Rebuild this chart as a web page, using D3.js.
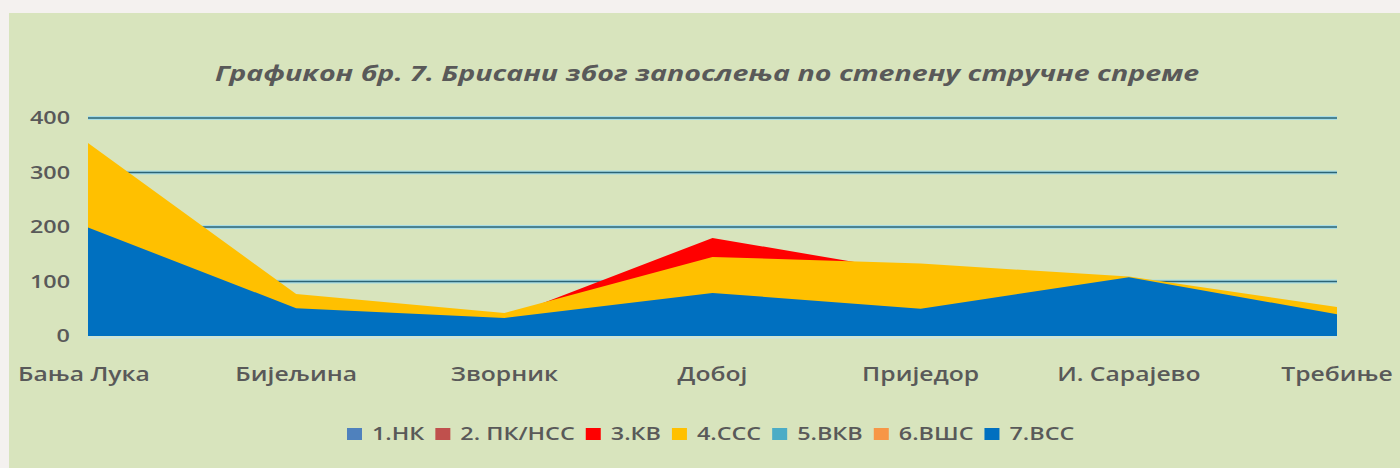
<!DOCTYPE html>
<html>
<head>
<meta charset="utf-8">
<script src="https://cdn.jsdelivr.net/npm/d3@7"></script>
<style>
  body { margin: 0; background: #f4f1ef; }
  svg { display: block; }
</style>
</head>
<body>
<svg id="chart"></svg>
<script>
const categories = ['Бања Лука', 'Бијељина', 'Зворник', 'Добој', 'Приједор', 'И. Сарајево', 'Требиње']
const seriesNames = ['1.НК', '2. ПК/НСС', '3.КВ', '4.ССС', '5.ВКВ', '6.ВШС', '7.ВСС']
const nk = [6, 2, 1, 3, 2, 1, 1]
const pkNss = [10, 3, 2, 6, 4, 2, 1]
const kv = [120, 20, 33, 180, 115, 40, 12]
const sss = [354, 77, 42, 145, 133, 109, 53]
const vkv = [3, 1, 0, 2, 1, 1, 0]
const vss6 = [20, 6, 3, 10, 6, 8, 3]
const vss7 = [199, 51, 33, 79, 50, 108, 40]
const yTicks = [0, 100, 200, 300, 400]
const colors = ['#4f81bd', '#c0504d', '#ff0000', '#ffc000', '#4bacc6', '#f79646', '#0070c0']

const series = [nk, pkNss, kv, sss, vkv, vss6, vss7]

const W = 1400, H = 468
const margin = { top: 118, right: 63, bottom: 132, left: 88 }
const width = W - margin.left - margin.right
const height = H - margin.top - margin.bottom
const stretch = 1.3 // the source picture is stretched sideways
const font = 'Open Sans, sans-serif'
const textColor = '#595959'

const svgElement = d3.select('#chart').attr('width', W).attr('height', H)

svgElement.append('rect')
  .attr('x', 9).attr('y', 13).attr('width', W - 9).attr('height', H - 13)
  .attr('fill', '#d8e4bd')

svgElement.append('text')
  .attr('transform', `translate(707, 81) scale(${stretch}, 1)`)
  .attr('text-anchor', 'middle')
  .attr('font-family', font)
  .attr('font-style', 'italic')
  .attr('font-weight', 'bold')
  .attr('font-size', 22)
  .attr('fill', textColor)
  .text('Графикон бр. 7. Брисани због запослења по степену стручне спреме')

const xScale = d3.scalePoint().domain(categories).range([0, width])
const yScale = d3.scaleLinear().domain([0, 400]).range([height, 0])

const svg = svgElement.append('g')
  .attr('transform', `translate(${margin.left}, ${margin.top})`)

// gridlines
const grid = svg.append('g')
grid.selectAll('line.halo')
  .data(yTicks.filter((d) => d > 0))
  .enter().append('line')
  .attr('x1', 0).attr('x2', width)
  .attr('y1', (d) => yScale(d)).attr('y2', (d) => yScale(d))
  .attr('stroke', '#a8dde6').attr('stroke-width', 4)
grid.selectAll('line.main')
  .data(yTicks.filter((d) => d > 0))
  .enter().append('line')
  .attr('x1', 0).attr('x2', width)
  .attr('y1', (d) => yScale(d)).attr('y2', (d) => yScale(d))
  .attr('stroke', '#2c6475').attr('stroke-width', 1.6)

const area = d3.area()
  .x((d, i) => xScale(categories[i]))
  .y0(yScale(0))
  .y1((d) => yScale(d))

svg.selectAll('path.area')
  .data(series)
  .enter().append('path')
  .attr('class', 'area')
  .attr('d', area)
  .attr('fill', (d, i) => colors[i])

// baseline
svg.append('line')
  .attr('x1', 0).attr('x2', width)
  .attr('y1', height + 1.5).attr('y2', height + 1.5)
  .attr('stroke', '#c9e6e2').attr('stroke-width', 2)

// y axis labels
svg.append('g')
  .selectAll('text')
  .data(yTicks)
  .enter().append('text')
  .attr('transform', (d) => `translate(-18, ${yScale(d)}) scale(${stretch}, 1)`)
  .attr('dy', '0.36em')
  .attr('text-anchor', 'end')
  .attr('font-family', font)
  .attr('font-weight', 600)
  .attr('font-size', 18)
  .attr('fill', textColor)
  .text((d) => d)

// x axis labels
svg.append('g')
  .selectAll('text')
  .data(categories)
  .enter().append('text')
  .attr('transform', (d, i) => {
    const x = i === 0 ? xScale(d) - 4 : xScale(d)
    return `translate(${x}, ${height + 45}) scale(${stretch}, 1)`
  })
  .attr('text-anchor', 'middle')
  .attr('font-family', font)
  .attr('font-weight', 600)
  .attr('font-size', 19)
  .attr('fill', textColor)
  .text((d) => d)

// legend
const legend = svgElement.append('g').attr('transform', 'translate(0, 434)')
let lx = 347
seriesNames.forEach((name, i) => {
  legend.append('rect')
    .attr('x', lx).attr('y', -6).attr('width', 15).attr('height', 12)
    .attr('fill', colors[i])
  const t = legend.append('text')
    .attr('transform', `translate(${lx + 25}, 0) scale(${stretch}, 1)`)
    .attr('dy', '0.36em')
    .attr('font-family', font)
    .attr('font-weight', 600)
    .attr('font-size', 18)
    .attr('fill', textColor)
    .text(name)
  lx += 25 + t.node().getComputedTextLength() * stretch + 11
})
</script>
</body>
</html>
